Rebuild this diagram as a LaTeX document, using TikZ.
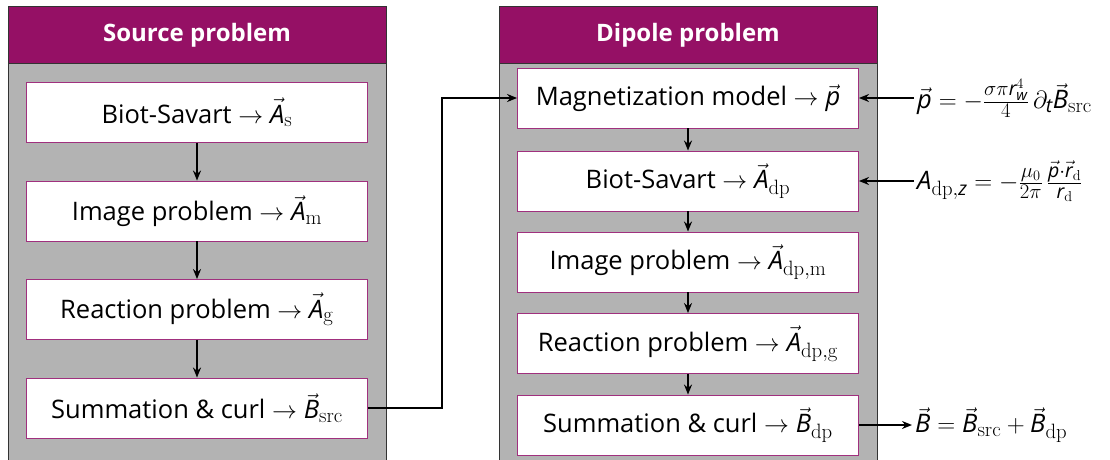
\documentclass[tikz,border=0pt]{standalone}
\usepackage{amsmath}
\usepackage[no-math]{fontspec}
\setmainfont{Open Sans}
\usetikzlibrary{arrows.meta}
\DeclareMathSizes{25.5}{25.5}{19.5}{15}
\definecolor{hdr}{HTML}{951065}
\definecolor{panelgray}{HTML}{B3B3B3}
\definecolor{boxedge}{HTML}{A0307E}
% sans italic letters for the vector quantities
\newcommand{\si}[1]{\text{\itshape #1}}
\newcommand{\vv}[1]{\vec{\text{\itshape #1}}}
\begin{document}
\begin{tikzpicture}[x=1pt,y=-1pt,
  every node/.style={font=\fontsize{25.5}{30}\selectfont},
  panel/.style={fill=panelgray,draw=black!80,line width=0.9pt},
  header/.style={fill=hdr,draw=black!80,line width=0.9pt},
  stepbox/.style={draw=boxedge,fill=white,line width=0.9pt,minimum width=341pt,minimum height=60pt,inner sep=0pt},
  title/.style={text=white,font=\fontsize{24}{28}\selectfont\bfseries},
  flow/.style={-{Stealth[length=10pt,width=8pt]},line width=2pt}]
\useasboundingbox (0,0) rectangle (1110,460);
\clip (0,0) rectangle (1110,460);
% panels
\path[panel] (8,6) rectangle (386,465);
\path[header] (8,6) rectangle (386,63);
\path[panel] (499,6) rectangle (877,465);
\path[header] (499,6) rectangle (877,63);
\node[title] (tl) at (197,35) {Source problem};
\node[title] (tr) at (688,35) {Dipole problem};
% source problem chain
\node[stepbox] (l1) at (197,112.5) {Biot-Savart $\to \vv{A}_{\mathrm{s}}$};
\node[stepbox] (l2) at (197,211) {Image problem $\to \vv{A}_{\mathrm{m}}$};
\node[stepbox] (l3) at (197,309.5) {Reaction problem $\to \vv{A}_{\mathrm{g}}$};
\node[stepbox] (l4) at (197,408) {Summation \& curl $\to \vv{B}_{\mathrm{src}}$};
\draw[flow] (l1) -- (l2);
\draw[flow] (l2) -- (l3);
\draw[flow] (l3) -- (l4);
% dipole problem chain
\node[stepbox] (r1) at (688,98) {Magnetization model $\to \vv{p}$};
\node[stepbox] (r2) at (688,181) {Biot-Savart $\to \vv{A}_{\mathrm{dp}}$};
\node[stepbox] (r3) at (688,262) {Image problem $\to \vv{A}_{\mathrm{dp,m}}$};
\node[stepbox] (r4) at (688,343.5) {Reaction problem $\to \vv{A}_{\mathrm{dp,g}}$};
\node[stepbox] (r5) at (688,425) {Summation \& curl $\to \vv{B}_{\mathrm{dp}}$};
\draw[flow] (r1) -- (r2);
\draw[flow] (r2) -- (r3);
\draw[flow] (r3) -- (r4);
\draw[flow] (r4) -- (r5);
% source field feeds the magnetization model
\draw[flow] (l4.east) -- ++(74,0) |- (r1.west);
% side equations
\node[anchor=west,inner sep=3pt] (ep) at (914,98)
  {$\vv{p} = -\frac{\sigma\pi \si{r}_{\si{w}}^{4}}{4}\,\partial_{\si{t}}\vv{B}_{\mathrm{src}}$};
\node[anchor=west,inner sep=3pt] (ea) at (914,181)
  {$\si{A}_{\mathrm{dp},\si{z}} = -\frac{\mu_0}{2\pi}\,\frac{\vv{p}\cdot\vv{r}_{\mathrm{d}}}{\si{r}_{\mathrm{d}}}$};
\node[anchor=west,inner sep=3pt] (eb) at (912,425)
  {$\vv{B} = \vv{B}_{\mathrm{src}} + \vv{B}_{\mathrm{dp}}$};
\draw[flow] (ep.west) -- (r1.east);
\draw[flow] (ea.west) -- (r2.east);
\draw[flow] (r5.east) -- (eb.west);
\end{tikzpicture}
\end{document}
